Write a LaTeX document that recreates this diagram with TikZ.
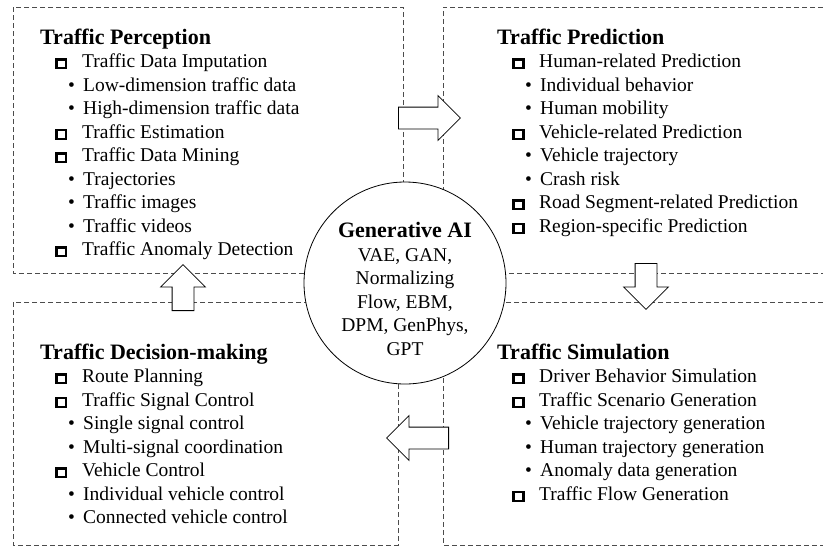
\documentclass[tikz,border=0pt]{standalone}
\usepackage{fontspec}
\setmainfont{Liberation Serif}
\usepackage{tikz}
\usetikzlibrary{shapes,arrows,positioning}

% list markers
\newcommand{\boxmark}{\raisebox{0.5pt}{\setlength{\fboxrule}{2.4pt}\setlength{\fboxsep}{0pt}\fbox{\rule{0pt}{6.5pt}\hspace{7.5pt}}}}
\newcommand{\sqitem}[1]{\hspace*{15pt}\makebox[27pt][l]{\boxmark}#1}
\newcommand{\dotitem}[1]{\hspace*{28pt}\makebox[15pt][l]{\textbullet}#1}
\newcommand{\quadtitle}[1]{{\fontsize{22}{23.5}\selectfont\bfseries #1}}

\begin{document}
\begin{tikzpicture}[x=1pt, y=-1pt]
        \tikzstyle{quad} = [draw=black!70, dash pattern=on 5pt off 3pt, line width=0.8pt]
        \tikzstyle{list} = [anchor=base west, inner sep=0pt, font=\fontsize{19.5}{23.5}\selectfont]
        \tikzstyle{hub} = [circle, draw, fill=white, line width=0.8pt, minimum size=202pt, inner sep=0pt, align=center, font=\fontsize{19.5}{23.5}\selectfont]
        \tikzstyle{flow} = [single arrow, draw, fill=white, line width=0.8pt, minimum height=62pt, inner sep=10.5pt, single arrow head extend=11.5pt, anchor=tail]

        \useasboundingbox (0,0) rectangle (823,547);

        % dashed quadrants
        \draw [quad] (13,7) rectangle (403,273);
        \draw [quad] (823,7) -- (443,7) -- (443,273) -- (823,273);
        \draw [quad] (13,302) rectangle (398,545);
        \draw [quad] (823,302) -- (443,302) -- (443,545) -- (823,545);

        \node [hub] (genai) at (405,283) {\rule{0pt}{27pt}\quadtitle{Generative AI}\\VAE, GAN,\\Normalizing\\Flow, EBM,\\DPM, GenPhys,\\GPT};

        % block arrows between the stages
        \node [flow] (toPred) at (398,118) {};
        \node [flow, shape border rotate=270, minimum height=46pt] (toSim) at (646,263) {};
        \node [flow, shape border rotate=180] (toDec) at (449,438) {};
        \node [flow, shape border rotate=90, minimum height=46pt] (toPerc) at (183,311) {};

        \node [list] (perc) at (40,44) {\begin{tabular}[t]{@{}l@{}}
            \quadtitle{Traffic Perception}\\
            \sqitem{Traffic Data Imputation}\\
            \dotitem{Low-dimension traffic data}\\
            \dotitem{High-dimension traffic data}\\
            \sqitem{Traffic Estimation}\\
            \sqitem{Traffic Data Mining}\\
            \dotitem{Trajectories}\\
            \dotitem{Traffic images}\\
            \dotitem{Traffic videos}\\
            \sqitem{Traffic Anomaly Detection}
        \end{tabular}};
        \node [list] (pred) at (497,44) {\begin{tabular}[t]{@{}l@{}}
            \quadtitle{Traffic Prediction}\\
            \sqitem{Human-related Prediction}\\
            \dotitem{Individual behavior}\\
            \dotitem{Human mobility}\\
            \sqitem{Vehicle-related Prediction}\\
            \dotitem{Vehicle trajectory}\\
            \dotitem{Crash risk}\\
            \sqitem{Road Segment-related Prediction}\\
            \sqitem{Region-specific Prediction}
        \end{tabular}};
        \node [list] (dec) at (40,359) {\begin{tabular}[t]{@{}l@{}}
            \quadtitle{Traffic Decision-making}\\
            \sqitem{Route Planning}\\
            \sqitem{Traffic Signal Control}\\
            \dotitem{Single signal control}\\
            \dotitem{Multi-signal coordination}\\
            \sqitem{Vehicle Control}\\
            \dotitem{Individual vehicle control}\\
            \dotitem{Connected vehicle control}
        \end{tabular}};
        \node [list] (sim) at (497,359) {\begin{tabular}[t]{@{}l@{}}
            \quadtitle{Traffic Simulation}\\
            \sqitem{Driver Behavior Simulation}\\
            \sqitem{Traffic Scenario Generation}\\
            \dotitem{Vehicle trajectory generation}\\
            \dotitem{Human trajectory generation}\\
            \dotitem{Anomaly data generation}\\
            \sqitem{Traffic Flow Generation}
        \end{tabular}};
    \end{tikzpicture}
\end{document}
